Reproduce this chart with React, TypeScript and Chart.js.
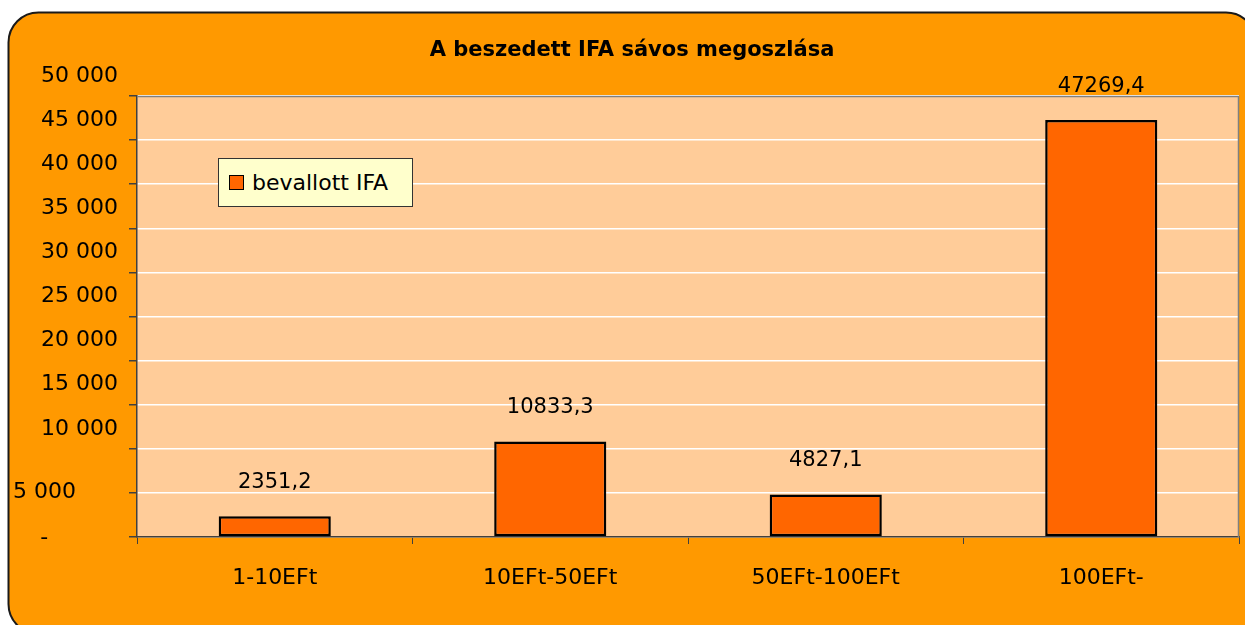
import { useEffect, useRef } from "react";
import { Chart, registerables } from "chart.js";

Chart.register(...registerables);

const chartTitle = "A beszedett IFA sávos megoszlása";
const categories = ["1-10EFt", "10EFt-50EFt", "50EFt-100EFt", "100EFt-"];
const seriesName = "bevallott IFA";
const seriesValues = [2351.2, 10833.3, 4827.1, 47269.4];
const valueLabels = ["2351,2", "10833,3", "4827,1", "47269,4"];
const yTickValues = [0, 5000, 10000, 15000, 20000, 25000, 30000, 35000, 40000, 45000, 50000];
const yTickLabels = ["-", "5 000", "10 000", "15 000", "20 000", "25 000", "30 000", "35 000", "40 000", "45 000", "50 000"];

const FONT = "'DejaVu Sans', Verdana, sans-serif";

const W = 1245;
const H = 625;
const NBSP = "\u00A0";

const decorPlugin = {
  id: "decor",
  beforeDraw(chart: any) {
    const { ctx, chartArea } = chart;
    ctx.save();
    const x = 8.5, y = 12.5, w = 1256 - 8.5, h = 634 - 12.5, r = 30;
    ctx.beginPath();
    ctx.moveTo(x + r, y);
    ctx.lineTo(x + w - r, y);
    ctx.arcTo(x + w, y, x + w, y + r, r);
    ctx.lineTo(x + w, y + h - r);
    ctx.arcTo(x + w, y + h, x + w - r, y + h, r);
    ctx.lineTo(x + r, y + h);
    ctx.arcTo(x, y + h, x, y + h - r, r);
    ctx.lineTo(x, y + r);
    ctx.arcTo(x, y, x + r, y, r);
    ctx.closePath();
    ctx.fillStyle = "#FF9900";
    ctx.fill();
    ctx.lineWidth = 2;
    ctx.strokeStyle = "#1a1a1a";
    ctx.stroke();
    ctx.fillStyle = "#FFCC99";
    ctx.fillRect(chartArea.left, chartArea.top, chartArea.right - chartArea.left, chartArea.bottom - chartArea.top);
    ctx.fillStyle = "#000";
    ctx.font = `bold 21px ${FONT}`;
    ctx.textAlign = "center";
    ctx.textBaseline = "middle";
    ctx.fillText(chartTitle, 632, 51);
    ctx.restore();
  },
  afterDatasetsDraw(chart: any) {
    const { ctx } = chart;
    const meta = chart.getDatasetMeta(0);
    ctx.save();
    ctx.fillStyle = "#000";
    ctx.font = `21px ${FONT}`;
    ctx.textAlign = "center";
    ctx.textBaseline = "middle";
    meta.data.forEach((el: any, i: number) => {
      ctx.fillText(valueLabels[i], el.x, el.y - 34);
    });
    ctx.restore();
  },
  afterDraw(chart: any) {
    const { ctx, chartArea } = chart;
    ctx.save();
    ctx.strokeStyle = "#808080";
    ctx.lineWidth = 1.5;
    ctx.beginPath();
    ctx.moveTo(chartArea.left, chartArea.top + 0.5);
    ctx.lineTo(chartArea.right - 0.5, chartArea.top + 0.5);
    ctx.lineTo(chartArea.right - 0.5, chartArea.bottom);
    ctx.stroke();
    ctx.restore();
  },
};

export default function App() {
  const ref = useRef<HTMLCanvasElement | null>(null);

  useEffect(() => {
    if (!ref.current) return;
    const chart = new Chart(ref.current, {
      type: "bar",
      data: {
        labels: categories,
        datasets: [
          {
            label: seriesName,
            data: seriesValues,
            backgroundColor: "#FF6600",
            borderColor: "#000000",
            borderWidth: 2.5,
            borderSkipped: false,
            barPercentage: 0.407,
            categoryPercentage: 1,
          },
        ],
      },
      options: {
        responsive: false,
        animation: false,
        events: [],
        layout: { padding: { top: 96, right: 6, left: 0, bottom: 0 } },
        plugins: {
          legend: { display: false },
          title: { display: false },
          tooltip: { enabled: false },
        },
        scales: {
          x: {
            offset: true,
            grid: {
              display: true,
              drawOnChartArea: false,
              drawTicks: true,
              tickLength: 7,
              tickColor: "#404040",
              color: "#404040",
              offset: true,
            },
            border: { display: true, color: "#404040", width: 1.5 },
            ticks: {
              color: "#000",
              font: { family: FONT, size: 22 },
              padding: 21,
              maxRotation: 0,
              autoSkip: false,
            },
            afterFit(scale: any) {
              scale.height = 88;
            },
          },
          y: {
            min: 0,
            max: 50000,
            afterBuildTicks(scale: any) {
              scale.ticks = yTickValues.map((v) => ({ value: v }));
            },
            grid: {
              color: "#FFFFFF",
              lineWidth: 1.5,
              tickColor: "#404040",
              tickLength: 8,
              drawTicks: true,
            },
            border: { display: true, color: "#404040", width: 1.5 },
            ticks: {
              color: "#000",
              autoSkip: false,
              font: (c: any) => ({
                family: FONT,
                size: 22,
                lineHeight: c.index === 0 ? "42px" : c.index === 1 ? "38px" : 1.2,
              }),
              padding: 11,
              labelOffset: -20,
              callback: (_v: any, i: number) => {
                if (i === 0) return ["", yTickLabels[i] + NBSP.repeat(10)];
                if (i === 1) return ["", yTickLabels[i] + NBSP.repeat(6)];
                return yTickLabels[i];
              },
            },
            afterFit(scale: any) {
              scale.width = 137;
            },
          },
        },
      },
      plugins: [decorPlugin],
    });
    return () => chart.destroy();
  }, []);

  return (
    <div style={{ position: "fixed", left: 0, top: 0, width: W, height: H, overflow: "hidden" }}>
      <canvas ref={ref} width={W} height={H} style={{ display: "block", width: W, height: H }} />
      <div
        style={{
          position: "absolute",
          left: 218,
          top: 158,
          width: 193,
          height: 47,
          background: "#FFFFCC",
          border: "1px solid #333",
          display: "flex",
          alignItems: "center",
          fontFamily: FONT,
          fontSize: 22,
          color: "#000",
          boxSizing: "content-box",
        }}
      >
        <span
          style={{
            display: "inline-block",
            width: 13,
            height: 13,
            background: "#FF6600",
            border: "1.5px solid #000",
            marginLeft: 10,
            marginRight: 8,
          }}
        />
        <span>{seriesName}</span>
      </div>
    </div>
  );
}
